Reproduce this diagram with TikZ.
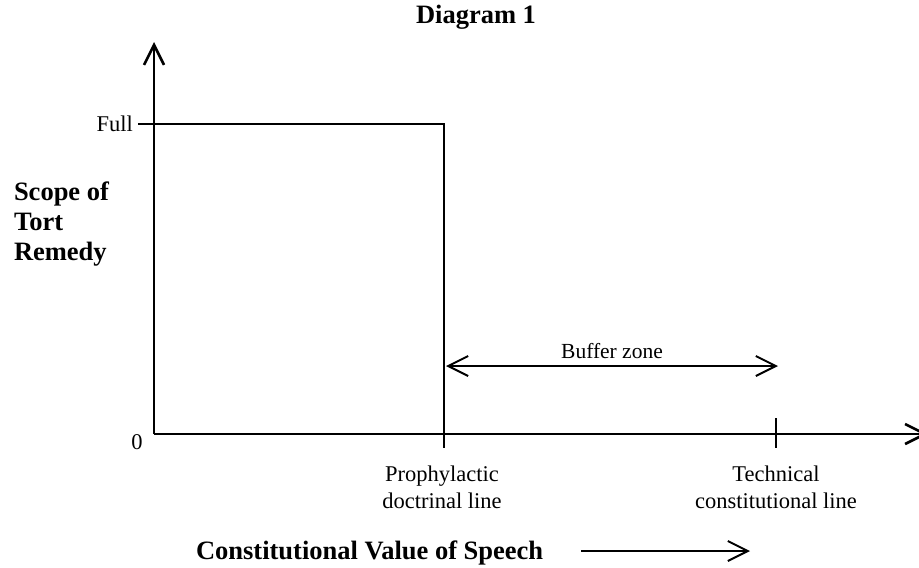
\documentclass[tikz,border=0pt]{standalone}
\usepackage{fontspec}
\setmainfont{Liberation Serif}
\usetikzlibrary{arrows.meta, positioning}

\begin{document}
\begin{tikzpicture}[x=1pt,y=-1pt,>={Straight Barb[length=20pt,width=20pt]},line width=2pt]
	\tikzset{lab/.style={font=\fontsize{22.5}{27}\selectfont, align=center, inner sep=0pt},
		head/.style={font=\fontsize{26.5}{30}\selectfont\bfseries, align=left, inner sep=0pt},
		axis/.style={line width=2.6pt}}
	\useasboundingbox (0,0) rectangle (919,568);
	% axes
	\coordinate (O) at (154,434);
	\coordinate (ytop) at (154,42);
	\coordinate (xend) at (928,434);
	\draw[axis, ->] (O) -- (ytop);
	\draw[axis, ->] (O) -- (xend);
	% full remedy up to the prophylactic line
	\coordinate (fullstart) at (138,124);
	\coordinate (corner) at (444,124);
	\coordinate (prophbot) at (444,448);
	\draw (fullstart) -- (corner) -- (prophbot);
	\coordinate (techtop) at (776,418);
	\coordinate (techbot) at (776,448);
	\draw (techtop) -- (techbot);
	% buffer zone
	\coordinate (bufl) at (446,366);
	\coordinate (bufr) at (778,366);
	\draw[<->] (bufl) -- (bufr) node[midway, above=6pt, lab, font=\fontsize{21.5}{26}\selectfont] (buffer) {Buffer zone};
	% labels
	\node[head] (title) at (476,17) {Diagram 1};
	\node[lab, anchor=east] (full) at (134,124) {Full};
	\node[lab] (zero) at (137,442) {0};
	\node[head, anchor=west] (scope) at (13,224) {Scope of\\Tort\\Remedy};
	\node[lab] (proph) at (442,487) {Prophylactic\\doctrinal line};
	\node[lab] (tech) at (776,487) {Technical\\constitutional line};
	\node[head, anchor=west] (value) at (195,553) {Constitutional Value of Speech};
	\coordinate (valstart) at (581,551);
	\coordinate (valend) at (750,551);
	\draw[->] (valstart) -- (valend);
\end{tikzpicture}
\end{document}
